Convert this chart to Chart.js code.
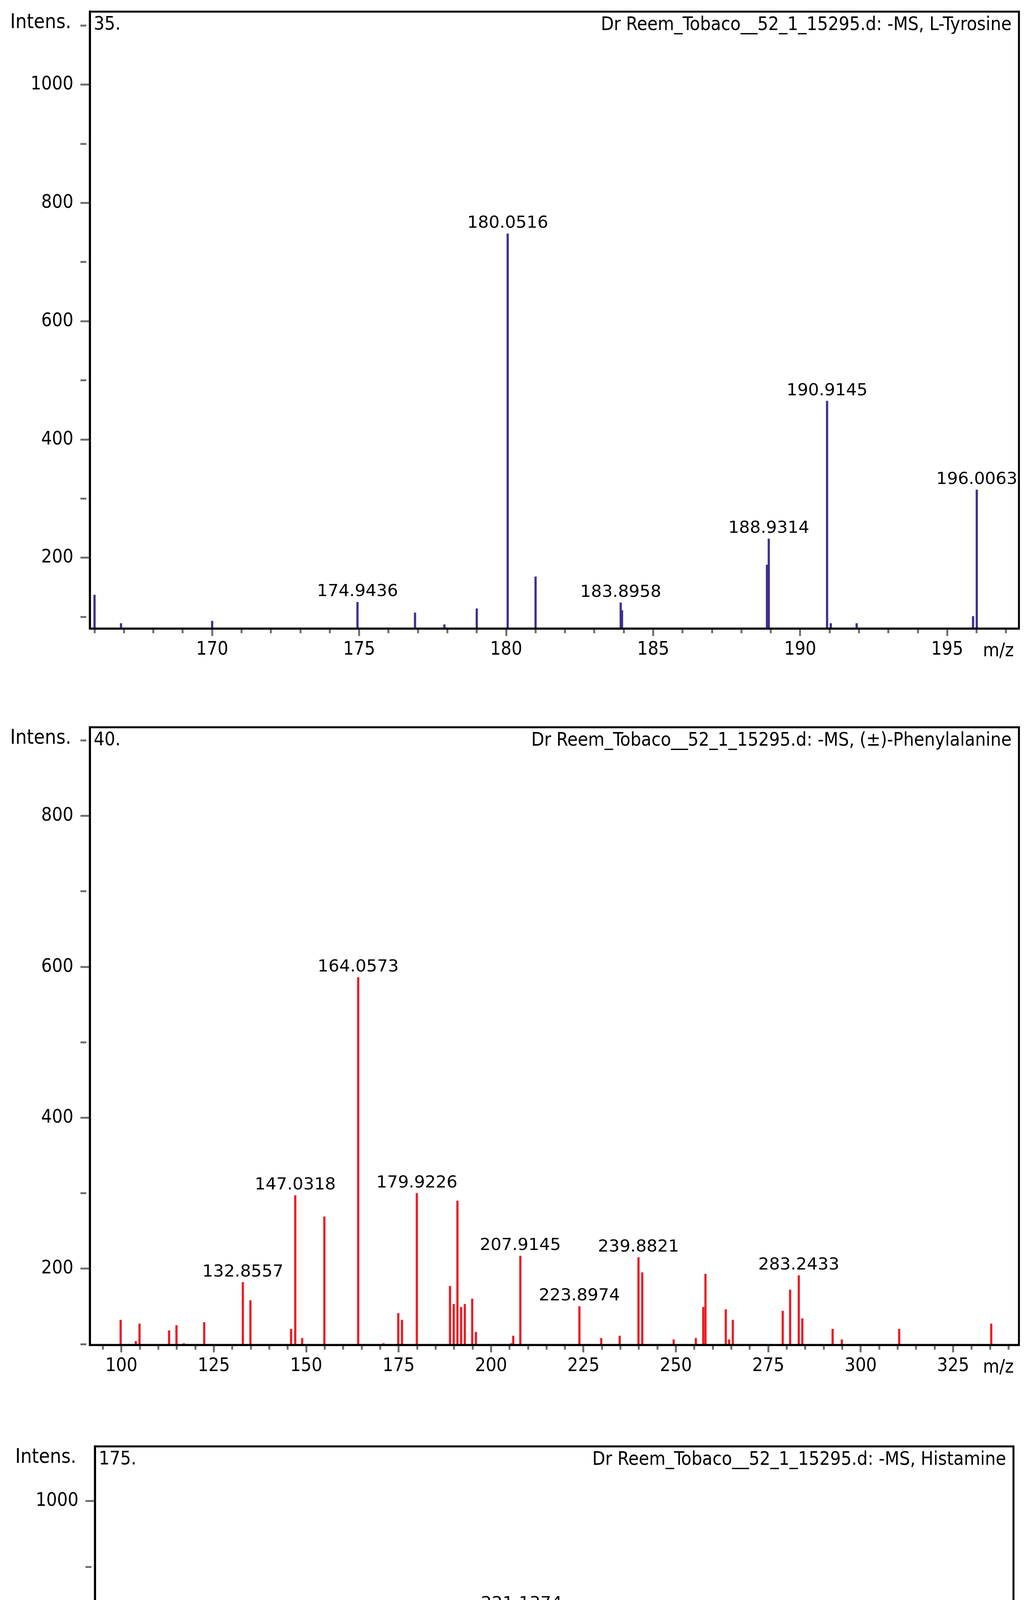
<!DOCTYPE html>
<html>
<head>
<meta charset="utf-8">
<title>MS spectra - Dr Reem_Tobaco__52_1_15295.d</title>
<script src="https://cdn.jsdelivr.net/npm/chart.js@4.4.1/dist/chart.umd.min.js"></script>
<style>
  html, body { margin: 0; padding: 0; background: #fff; }
  body { width: 2645px; height: 5372px; position: relative; overflow: hidden; }
  canvas { position: absolute; left: 0; }
</style>
</head>
<body>
<canvas id="tyr"></canvas>
<canvas id="phe"></canvas>
<canvas id="his"></canvas>
<script>
// 35. L-Tyrosine
const tyrMz = [166.0, 166.9, 170.0, 174.9436, 176.9, 177.9, 179.0, 180.0516, 181.0, 183.8958, 183.94,
               188.87, 188.9314, 190.9145, 191.04, 191.92, 195.88, 196.0063];
const tyrIntens = [137, 89, 93, 125, 107, 87, 114, 748, 168, 124, 111,
                   188, 232, 465, 89, 89, 101, 315];
const tyrLabels = [174.9436, 180.0516, 183.8958, 188.9314, 190.9145, 196.0063];

// 40. (±)-Phenylalanine
const pheMz = [99.8, 103.9, 104.9, 112.9, 114.9, 116.9, 122.4, 132.8557, 134.9, 145.9, 147.0318, 148.9,
               154.9, 164.0573, 170.9, 174.9, 175.9, 179.9226, 188.9, 189.9, 190.9, 191.9, 192.9, 194.9,
               195.9, 205.4, 206.0, 207.9145, 223.8974, 229.8, 234.8, 239.8821, 240.9, 249.4, 255.4, 257.4,
               258.0, 263.5, 264.4, 265.4, 278.9, 280.9, 283.2433, 284.2, 292.4, 294.9, 310.4, 335.3];
const pheIntens = [132, 104, 127, 118, 125, 101, 129, 182, 158, 120, 297, 108,
                   269, 586, 101, 141, 132, 300, 177, 153, 290, 149, 153, 160,
                   116, 101, 111, 217, 150, 108, 111, 215, 195, 106, 108, 149,
                   193, 146, 106, 132, 144, 172, 191, 134, 120, 106, 120, 127];
const pheLabels = [132.8557, 147.0318, 164.0573, 179.9226, 207.9145, 223.8974, 239.8821, 283.2433];

// 175. Histamine
const hisMz = [201.8928, 216.8344, 218.8, 221.1374, 224.0108, 239.0461, 241.1];
const hisIntens = [181, 485, 271, 829, 192, 281, 208];
const hisLabels = [201.8928, 216.8344, 221.1374, 224.0108, 239.0461];

const AXIS_FONT = '"DejaVu Sans Condensed", "DejaVu Sans", sans-serif';
const PEAK_FONT = '"DejaVu Sans", sans-serif';
const TICK_GREY = '#707070';

// frame, header texts and peak labels
const msText = {
  id: 'msText',
  afterDraw(chart, args, opts) {
    const { ctx, chartArea: a } = chart;
    ctx.save();
    ctx.strokeStyle = '#000';
    ctx.lineWidth = 5;
    ctx.strokeRect(a.left, a.top, a.right - a.left, a.bottom - a.top);

    ctx.fillStyle = '#000';
    ctx.textBaseline = 'alphabetic';
    ctx.textAlign = 'left';
    ctx.font = '51px ' + AXIS_FONT;
    ctx.fillText('Intens.', a.left - 204, a.top + 42);
    ctx.font = '48px ' + AXIS_FONT;
    ctx.fillText(opts.index, a.left + 10, a.top + 46);
    ctx.textAlign = 'right';
    ctx.fillText(opts.title, a.right - 19, a.top + 47);
    ctx.fillText('m/z', a.right - 13, a.bottom + 71);

    const xs = chart.scales.x, ys = chart.scales.y;
    const pts = chart.data.datasets[0].data;
    ctx.font = '43.5px ' + PEAK_FONT;
    ctx.textAlign = 'center';
    opts.peaks.forEach(mz => {
      const p = pts.find(d => d.x === mz);
      if (!p) return;
      ctx.fillText(mz.toFixed(4), xs.getPixelForValue(p.x), ys.getPixelForValue(p.y) - 15);
    });
    ctx.restore();
  }
};

function isStep(v, step) {
  const r = v / step;
  return Math.abs(r - Math.round(r)) < 1e-6;
}

// minor ticks: only the first part of the (long) tick line is drawn
function minorDash(step, len) {
  return c => (c.tick && !isStep(c.tick.value, step)) ? [len, 400] : [];
}

function spectrum(id, cfg) {
  const canvas = document.getElementById(id);
  const padTop = 40, below = 110;
  const top = cfg.box.top - padTop;
  const height = cfg.box.bottom + below - top;
  canvas.width = 2645;
  canvas.height = height;
  canvas.style.top = top + 'px';
  canvas.style.width = '2645px';
  canvas.style.height = height + 'px';

  new Chart(canvas, {
    type: 'bar',
    data: {
      datasets: [{
        data: cfg.mz.map((m, i) => ({ x: m, y: cfg.intens[i] })),
        backgroundColor: cfg.color,
        barThickness: 5,
        base: cfg.y[0]
      }]
    },
    options: {
      responsive: false,
      animation: false,
      devicePixelRatio: 1,
      layout: { padding: { left: 0, top: padTop, right: 2645 - cfg.box.right, bottom: 0 } },
      plugins: {
        legend: { display: false },
        tooltip: { enabled: false },
        msText: { index: cfg.index, title: cfg.title, peaks: cfg.peaks }
      },
      scales: {
        x: {
          type: 'linear',
          offset: false,
          min: cfg.x[0],
          max: cfg.x[1],
          afterFit: s => { s.height = below; },
          border: { display: true, color: '#000', width: 5 },
          grid: {
            offset: false,
            drawOnChartArea: false,
            drawTicks: true,
            tickLength: 19,
            tickWidth: 5,
            tickColor: TICK_GREY,
            tickBorderDash: minorDash(cfg.xMajor, 9)
          },
          ticks: {
            stepSize: cfg.xMinor,
            includeBounds: false,
            autoSkip: false,
            maxRotation: 0,
            minRotation: 0,
            padding: 7,
            color: '#000',
            font: { family: AXIS_FONT, size: 48 },
            callback: v => isStep(v, cfg.xMajor) ? String(Math.round(v)) : ''
          }
        },
        y: {
          min: cfg.y[0],
          max: cfg.y[1],
          afterFit: s => { s.width = cfg.box.left; },
          border: { display: true, color: '#000', width: 5 },
          grid: {
            drawOnChartArea: false,
            drawTicks: true,
            tickLength: 24,
            tickWidth: 5,
            tickColor: TICK_GREY,
            tickBorderDash: minorDash(200, 15)
          },
          ticks: {
            stepSize: 100,
            includeBounds: false,
            autoSkip: false,
            padding: 18,
            color: '#000',
            font: { family: AXIS_FONT, size: 48 },
            callback: v => isStep(v, 200) ? String(Math.round(v)) : ''
          }
        }
      }
    },
    plugins: [msText]
  });
}

spectrum('tyr', {
  mz: tyrMz, intens: tyrIntens, peaks: tyrLabels,
  color: '#3a3190',
  index: '35.',
  title: 'Dr Reem_Tobaco__52_1_15295.d: -MS, L-Tyrosine',
  box: { left: 230, top: 23, right: 2609, bottom: 1609 },
  x: [165.84, 197.44], xMinor: 1, xMajor: 5,
  y: [80.3, 1123.6]
});

spectrum('phe', {
  mz: pheMz, intens: pheIntens, peaks: pheLabels,
  color: '#ed1c24',
  index: '40.',
  title: 'Dr Reem_Tobaco__52_1_15295.d: -MS, (±)-Phenylalanine',
  box: { left: 230, top: 1855, right: 2609, bottom: 3443 },
  x: [91.46, 342.8], xMinor: 5, xMajor: 25,
  y: [98.97, 917.5]
});

spectrum('his', {
  mz: hisMz, intens: hisIntens, peaks: hisLabels,
  color: '#22b14c',
  index: '175.',
  title: 'Dr Reem_Tobaco__52_1_15295.d: -MS, Histamine',
  box: { left: 243, top: 3696, right: 2595, bottom: 5263 },
  x: [197.87, 247.97], xMinor: 1, xMajor: 5,
  y: [163.1, 1082.1]
});
</script>
</body>
</html>
